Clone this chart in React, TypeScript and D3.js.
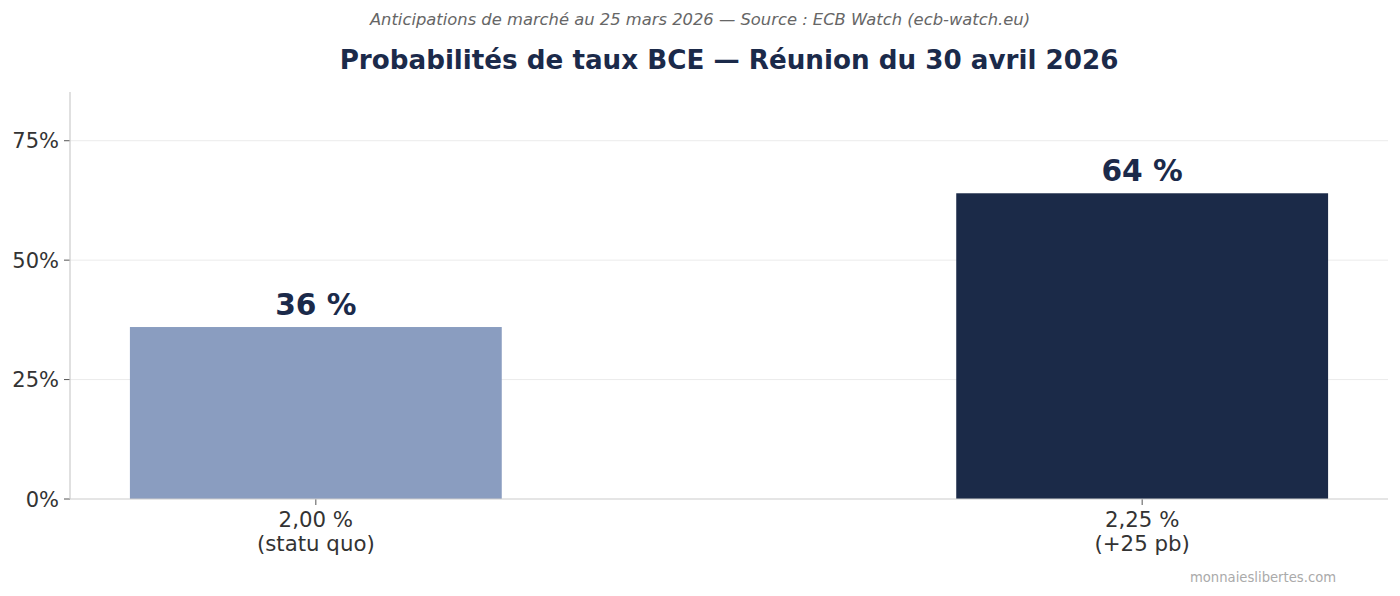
import React from "react";
import * as d3 from "d3";

const categories = ["2,00 %\n(statu quo)", "2,25 %\n(+25 pb)"];
const values = [36, 64];
const valueLabels = ["36 %", "64 %"];
const barColors = ["#8a9dc0", "#1b2a48"];
const yTicks = [0, 25, 50, 75];
const titleText = "Probabilités de taux BCE — Réunion du 30 avril 2026";
const subtitleText = "Anticipations de marché au 25 mars 2026 — Source : ECB Watch (ecb-watch.eu)";
const watermark = "monnaieslibertes.com";

const W = 1400;
const H = 596;
const left = 70;
const right = 1388;
const top = 92;
const bottom = 499;
const font = "DejaVu Sans, sans-serif";

export default function App() {
  const x = d3.scaleLinear().domain([-0.2975, 1.2975]).range([left, right]);
  const y = d3.scaleLinear().domain([0, 85.2]).range([bottom, top]);
  const bw = 0.45;
  return (
    <svg width={W} height={H} style={{ position: "absolute", left: 0, top: 0, background: "#fff" }} fontFamily={font}>
      <text x={700} y={25} textAnchor="middle" fontSize={16.35} fontStyle="italic" fill="#666">{subtitleText}</text>
      <text x={729} y={69} textAnchor="middle" fontSize={26.2} fontWeight="bold" fill="#1b2a4a">{titleText}</text>
      {yTicks.map((t) => (
        <g key={t}>
          {t > 0 && <line x1={left} x2={right} y1={y(t)} y2={y(t)} stroke="#ebebeb" strokeWidth={1} />}
          <line x1={left - 6} x2={left} y1={y(t)} y2={y(t)} stroke="#555" strokeWidth={1} />
          <text x={left - 11} y={y(t)} dy="0.36em" textAnchor="end" fontSize={21} fill="#333">{t}%</text>
        </g>
      ))}
      {values.map((v, i) => (
        <g key={i}>
          <rect x={x(i - bw / 2)} width={x(i + bw / 2) - x(i - bw / 2)} y={y(v)} height={y(0) - y(v)} fill={barColors[i]} />
          <text x={x(i)} y={y(v) - 12} textAnchor="middle" fontSize={29.7} fontWeight="bold" fill="#1b2a4a">{valueLabels[i]}</text>
          <line x1={x(i)} x2={x(i)} y1={bottom} y2={bottom + 6} stroke="#555" strokeWidth={1} />
          {categories[i].split("\n").map((ln, j) => (
            <text key={j} x={x(i)} y={527 + j * 24} textAnchor="middle" fontSize={21.3} fill="#333">{ln}</text>
          ))}
        </g>
      ))}
      <line x1={left} x2={left} y1={top} y2={bottom} stroke="#cccccc" strokeWidth={1.2} />
      <line x1={left} x2={right} y1={bottom} y2={bottom} stroke="#cccccc" strokeWidth={1.2} />
      <text x={1263} y={582} textAnchor="middle" fontSize={13.2} fill="#aaa">{watermark}</text>
    </svg>
  );
}
